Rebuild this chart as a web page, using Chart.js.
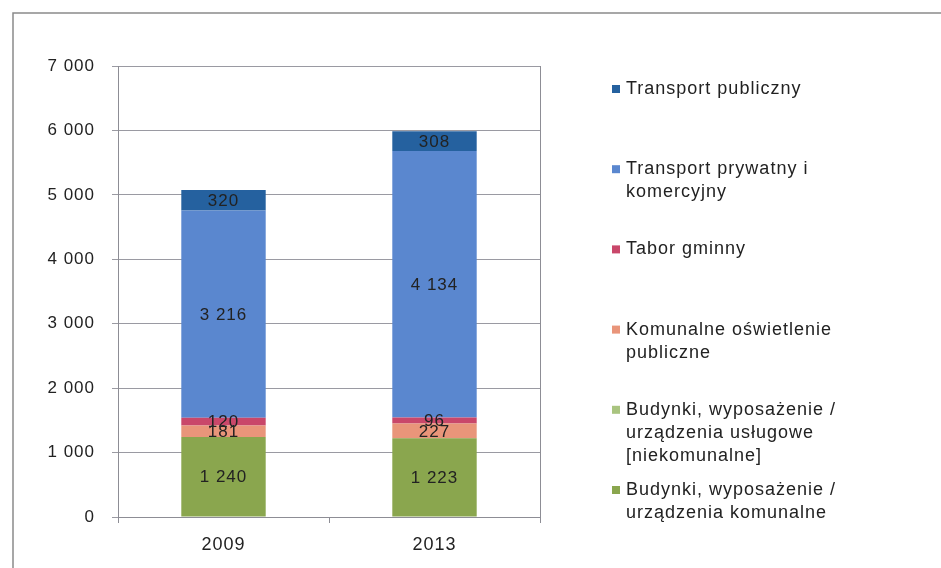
<!DOCTYPE html>
<html>
<head>
<meta charset="utf-8">
<script src="https://cdn.jsdelivr.net/npm/chart.js@4"></script>
<style>
html,body{margin:0;padding:0;background:#fff;}
#wrap{position:relative;width:941px;height:568px;}
</style>
</head>
<body>
<div id="wrap"><canvas id="c" width="941" height="568"></canvas></div>
<script>
const categories = ['2009', '2013'];
const seriesNames = [
  'Budynki, wyposażenie /\nurządzenia komunalne',
  'Budynki, wyposażenie /\nurządzenia usługowe\n[niekomunalne]',
  'Komunalne oświetlenie\npubliczne',
  'Tabor gminny',
  'Transport prywatny i\nkomercyjny',
  'Transport publiczny'
];
const budynkiKomunalne = [1240, 1223];
const budynkiUslugowe = [0, 0];
const oswietlenie = [181, 227];
const taborGminny = [120, 96];
const transportPrywatny = [3216, 4134];
const transportPubliczny = [320, 308];
const seriesColors = ['#8aa64e', '#a9c47f', '#e9957a', '#c9476a', '#5a87cf', '#25619f'];
const yTicks = [0, 1000, 2000, 3000, 4000, 5000, 6000, 7000];

const seriesValues = [budynkiKomunalne, budynkiUslugowe, oswietlenie, taborGminny, transportPrywatny, transportPubliczny];
const FONT = '"Liberation Sans", Arial, sans-serif';
function fmt(v){ return String(v).replace(/\B(?=(\d{3})+(?!\d))/g, ' '); }

const decor = {
  id: 'decor',
  beforeDraw(chart){
    const ctx = chart.ctx;
    ctx.save();
    ctx.strokeStyle = '#8a8a8a';
    ctx.lineWidth = 1.5;
    ctx.beginPath();
    ctx.moveTo(13, 568); ctx.lineTo(13, 13); ctx.lineTo(941, 13);
    ctx.stroke();
    ctx.restore();
    ctx.letterSpacing = '1px';
  },
  afterDatasetsDraw(chart){
    const ctx = chart.ctx;
    const a = chart.chartArea;
    ctx.save();
    ctx.strokeStyle = '#8d8d95';
    ctx.lineWidth = 1;
    ctx.beginPath();
    ctx.moveTo(a.right + 0.5, a.top); ctx.lineTo(a.right + 0.5, a.bottom);
    ctx.stroke();
    // data labels
    ctx.font = '17px ' + FONT;
    ctx.letterSpacing = '1px';
    ctx.fillStyle = '#222';
    ctx.textAlign = 'center';
    ctx.textBaseline = 'middle';
    chart.data.datasets.forEach((ds, di) => {
      const meta = chart.getDatasetMeta(di);
      meta.data.forEach((el, i) => {
        const v = ds.data[i];
        if (!v) return;
        const p = el.getProps(['x','y','base'], true);
        ctx.fillText(fmt(v), p.x, (p.y + p.base) / 2 + 1);
      });
    });
    // legend
    ctx.font = '18px ' + FONT;
    ctx.letterSpacing = '1px';
    ctx.textAlign = 'left';
    const n = chart.data.datasets.length;
    for (let k = 0; k < n; k++) {
      const di = n - 1 - k;
      const ds = chart.data.datasets[di];
      const y0 = 89 + k * 80.2;
      ctx.fillStyle = ds.backgroundColor;
      ctx.fillRect(612, y0 - 4, 8, 8);
      ctx.fillStyle = '#222';
      ds.label.split('\n').forEach((line, li) => {
        ctx.fillText(line, 626, y0 + li * 23);
      });
    }
    ctx.restore();
  }
};

new Chart(document.getElementById('c'), {
  type: 'bar',
  data: {
    labels: categories,
    datasets: seriesValues.map((vals, i) => ({
      label: seriesNames[i],
      data: vals,
      backgroundColor: seriesColors[i],
      borderWidth: 0,
      categoryPercentage: 1,
      barPercentage: 0.4
    }))
  },
  options: {
    responsive: false,
    animation: false,
    layout: { padding: { left: 0, right: 401, top: 66, bottom: 0 } },
    plugins: { legend: { display: false }, tooltip: { enabled: false } },
    scales: {
      x: {
        stacked: true,
        grid: { display: true, drawOnChartArea: false, drawTicks: true, tickLength: 6, color: '#8d8d95', offset: true },
        border: { display: true, color: '#8d8d95', width: 1 },
        ticks: { color: '#222', font: { size: 18, family: FONT }, padding: 11 },
        afterFit(s){ s.height = 51; }
      },
      y: {
        stacked: true,
        min: 0, max: 7000,
        afterBuildTicks(s){ s.ticks = yTicks.map(v => ({ value: v })); },
        grid: { color: '#9a9aa2', tickLength: 6, drawTicks: true },
        border: { display: true, color: '#8d8d95', width: 1 },
        ticks: { color: '#222', font: { size: 17, family: FONT }, padding: 17, callback: v => fmt(v) },
        afterFit(s){ s.width = 118; }
      }
    }
  },
  plugins: [decor]
});
</script>
</body>
</html>
